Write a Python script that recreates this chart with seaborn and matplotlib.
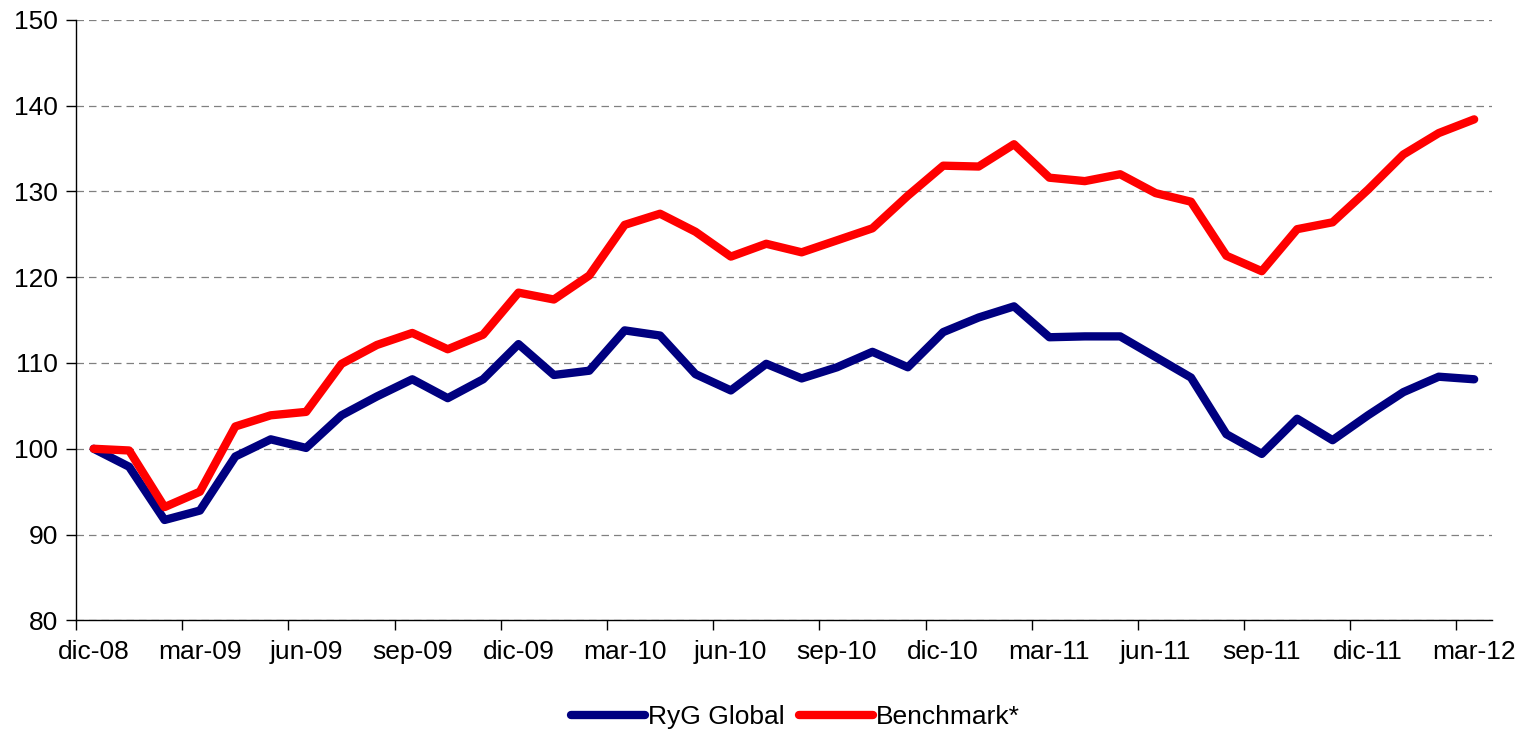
import numpy as np
import pandas as pd
import matplotlib
matplotlib.use("Agg")
import matplotlib.pyplot as plt
import seaborn as sns

# ── Data ──────────────────────────────────────────────────────────────────────

months = [
    "dic-08", "ene-09", "feb-09", "mar-09", "abr-09", "may-09", "jun-09",
    "jul-09", "ago-09", "sep-09", "oct-09", "nov-09", "dic-09", "ene-10",
    "feb-10", "mar-10", "abr-10", "may-10", "jun-10", "jul-10", "ago-10",
    "sep-10", "oct-10", "nov-10", "dic-10", "ene-11", "feb-11", "mar-11",
    "abr-11", "may-11", "jun-11", "jul-11", "ago-11", "sep-11", "oct-11",
    "nov-11", "dic-11", "ene-12", "feb-12", "mar-12",
]

ryg_global = [
    100.0, 97.9, 91.7, 92.8, 99.1, 101.1, 100.1, 103.9, 106.1, 108.1,
    105.9, 108.1, 112.2, 108.6, 109.1, 113.8, 113.2, 108.7, 106.8, 109.9,
    108.2, 109.5, 111.3, 109.5, 113.6, 115.3, 116.6, 113.0, 113.1, 113.1,
    110.7, 108.3, 101.7, 99.4, 103.5, 101.0, 103.9, 106.6, 108.4, 108.1,
]

benchmark = [
    100.0, 99.8, 93.2, 95.0, 102.6, 103.9, 104.3, 109.9, 112.1, 113.5,
    111.6, 113.3, 118.2, 117.4, 120.2, 126.1, 127.4, 125.3, 122.4, 123.9,
    122.9, 124.3, 125.7, 129.5, 133.0, 132.9, 135.5, 131.6, 131.2, 132.0,
    129.8, 128.8, 122.5, 120.7, 125.6, 126.4, 130.2, 134.3, 136.8, 138.4,
]

series_names = ["RyG Global", "Benchmark*"]
colours = ["#000080", "#FF0000"]

y_ticks = [80, 90, 100, 110, 120, 130, 140, 150]

# ── Build long table ──────────────────────────────────────────────────────────

idx = np.arange(len(months))
df = pd.concat([
    pd.DataFrame({"pos": idx, "month": months, "value": ryg_global,
                  "serie": series_names[0]}),
    pd.DataFrame({"pos": idx, "month": months, "value": benchmark,
                  "serie": series_names[1]}),
], ignore_index=True)

# ── Plot ──────────────────────────────────────────────────────────────────────

sns.set_style("white")
plt.rcParams["font.family"] = ["Liberation Sans", "DejaVu Sans"]
plt.rcParams["text.color"] = "black"
plt.rcParams["xtick.color"] = "black"
plt.rcParams["ytick.color"] = "black"

FS = 19

fig = plt.figure(figsize=(15.24, 7.35), dpi=100)
ax = fig.add_axes([0.0499, 0.156, 0.929, 0.817])

sns.lineplot(
    data=df, x="pos", y="value", hue="serie",
    palette=dict(zip(series_names, colours)),
    linewidth=6, ax=ax, legend=False,
    solid_capstyle="round", solid_joinstyle="round",
)

ax.set_xlim(-0.5, len(months) - 0.5)
ax.set_ylim(y_ticks[0], y_ticks[-1])
ax.set_yticks(y_ticks)
ax.set_yticklabels([str(v) for v in y_ticks], fontsize=FS)

# tick marks on category boundaries, labels on every third category
ax.set_xticks(np.arange(-0.5, len(months), 3))
ax.set_xticklabels([])
ax.set_xticks(idx[::3], minor=True)
ax.set_xticklabels(months[::3], minor=True, fontsize=FS)
ax.tick_params(axis="x", which="major", bottom=True, direction="out",
               length=7, width=1, color="black")
ax.tick_params(axis="x", which="minor", bottom=True, length=0, pad=14)
ax.tick_params(axis="y", left=True, direction="out", length=7, width=1,
               color="black", pad=6)

ax.grid(axis="y", color="#808080", linestyle=(0, (6, 4)), linewidth=0.9)
ax.set_axisbelow(True)
for side in ["top", "right"]:
    ax.spines[side].set_visible(False)
for side in ["left", "bottom"]:
    ax.spines[side].set_color("black")
    ax.spines[side].set_linewidth(1)
ax.set_xlabel("")
ax.set_ylabel("")

handles = [plt.Line2D([], [], color=c, linewidth=6, solid_capstyle="round")
           for c in colours]
fig.legend(handles, series_names, loc="center", bbox_to_anchor=(0.522, 0.024),
           ncol=2, frameon=False, fontsize=FS, handlelength=2.8,
           handletextpad=0.1, columnspacing=0.55)

plt.savefig("out.png", dpi=100)
